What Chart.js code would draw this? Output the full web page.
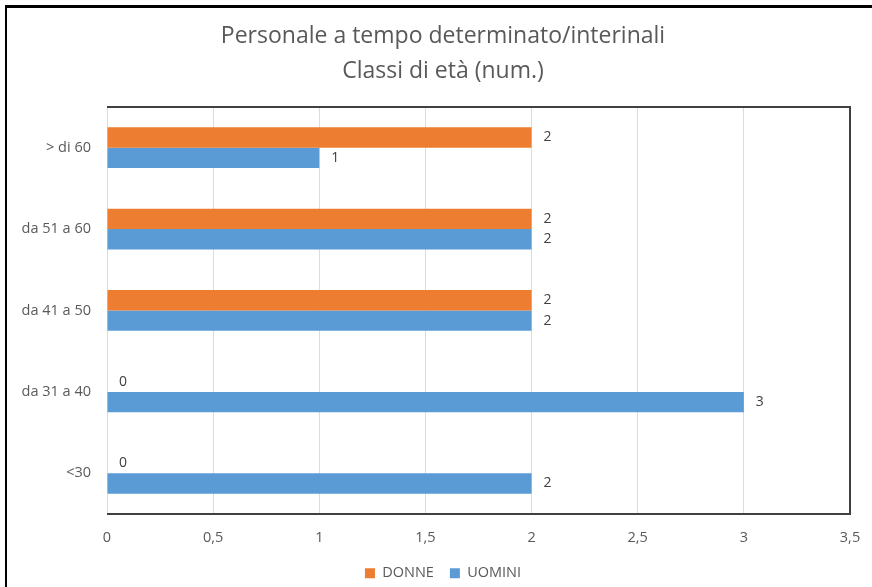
<!DOCTYPE html>
<html>
<head>
<meta charset="utf-8">
<script src="https://cdn.jsdelivr.net/npm/chart.js@4"></script>
<style>
  html, body { margin: 0; padding: 0; background: #fff; }
  #wrap { position: relative; width: 872px; height: 587px; overflow: hidden; }
  #frame { position: absolute; left: 5px; top: 5px; width: 900px; height: 700px;
           border-left: 2px solid #000; border-top: 3px solid #000; box-sizing: border-box; }
  canvas { position: absolute; left: 0; top: 0; }
</style>
</head>
<body>
<div id="wrap">
  <canvas id="chart" width="872" height="587"></canvas>
  <div id="frame"></div>
</div>
<script>
const categories = ["> di 60", "da 51 a 60", "da 41 a 50", "da 31 a 40", "<30"];
const donne = [2, 2, 2, 0, 0];
const uomini = [1, 2, 2, 3, 2];
const titleLines = ["Personale a tempo determinato/interinali", "Classi di età (num.)"];

const textColor = "#595959";
const fontFamily = "'Open Sans', Lato, sans-serif";

// etichette dati a destra delle barre
const valueLabels = {
  id: "valueLabels",
  afterDatasetsDraw(chart) {
    const { ctx } = chart;
    ctx.save();
    ctx.fillStyle = "#404040";
    ctx.font = "14px " + fontFamily;
    ctx.textAlign = "left";
    ctx.textBaseline = "middle";
    chart.data.datasets.forEach((ds, i) => {
      const meta = chart.getDatasetMeta(i);
      meta.data.forEach((el, j) => {
        ctx.fillText(String(ds.data[j]), el.x + 12, el.y);
      });
    });
    ctx.restore();
  }
};

// bordo dell'area del grafico (alto, destra, basso)
const plotFrame = {
  id: "plotFrame",
  afterDraw(chart) {
    const { ctx, chartArea: a } = chart;
    ctx.save();
    ctx.strokeStyle = "#404040";
    ctx.lineWidth = 2;
    ctx.beginPath();
    ctx.moveTo(a.left, a.top);
    ctx.lineTo(a.right, a.top);
    ctx.lineTo(a.right, a.bottom);
    ctx.lineTo(a.left, a.bottom);
    ctx.stroke();
    ctx.restore();
  }
};

new Chart(document.getElementById("chart"), {
  type: "bar",
  data: {
    labels: categories,
    datasets: [
      { label: "DONNE", data: donne, backgroundColor: "#ED7D31" },
      { label: "UOMINI", data: uomini, backgroundColor: "#5B9BD5" }
    ]
  },
  options: {
    indexAxis: "y",
    responsive: false,
    animation: false,
    categoryPercentage: 0.5,
    barPercentage: 1,
    layout: { padding: { top: 7, right: 0, bottom: -3.5, left: 14 } },
    scales: {
      x: {
        min: 0, max: 3.5,
        ticks: {
          stepSize: 0.5,
          color: textColor,
          font: { family: fontFamily, size: 14.5 },
          padding: 15,
          callback: v => String(v).replace(".", ",")
        },
        grid: { color: "#cddff3", drawTicks: false },
        border: { display: false },
        afterFit(scale) {
          scale.height = 36;
          scale.paddingLeft = 0;
          scale.paddingRight = 0;
        }
      },
      y: {
        ticks: { color: textColor, font: { family: fontFamily, size: 14.5 }, padding: 16 },
        grid: { display: false, drawTicks: false },
        border: { display: false },
        afterFit(scale) { scale.width = 93; }
      },
      // spazio vuoto a destra dell'area del grafico
      spacer: {
        type: "linear",
        position: "right",
        ticks: { display: false },
        grid: { display: false, drawTicks: false },
        border: { display: false },
        afterFit(scale) {
          scale.width = 22;
          scale.paddingTop = 0;
          scale.paddingBottom = 0;
        }
      }
    },
    plugins: {
      title: {
        display: true,
        text: titleLines,
        color: textColor,
        font: { family: fontFamily, size: 23, weight: "normal", lineHeight: 1.52 },
        padding: { top: 12, bottom: 18 }
      },
      legend: {
        position: "bottom",
        labels: {
          color: textColor,
          font: { family: fontFamily, size: 14.5 },
          boxWidth: 10, boxHeight: 10,
          padding: 16
        }
      },
      tooltip: { enabled: false }
    }
  },
  plugins: [valueLabels, plotFrame]
});
</script>
</body>
</html>
